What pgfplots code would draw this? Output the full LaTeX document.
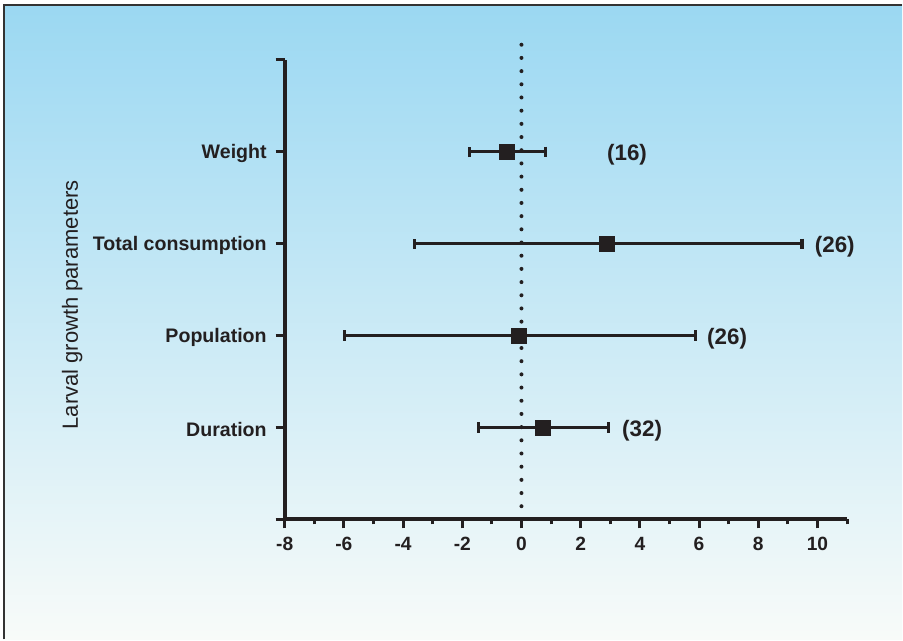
\documentclass[border=0pt]{standalone}
\usepackage{pgfplots}
\pgfplotsset{compat=1.18}
\usepackage{fontspec}
\setmainfont{Liberation Sans}
\definecolor{topc}{RGB}{155,216,242}
\definecolor{botc}{RGB}{248,251,249}
\definecolor{ink}{RGB}{35,31,32}
\begin{document}
\begin{tikzpicture}
\fill[white] (0,0) rectangle (451.5pt,320pt);
\shade[top color=topc, bottom color=botc] (2pt,0) rectangle (451.5pt,317.5pt);
\draw[line width=1pt, black!80] (2pt,0) -- (2pt,317.5pt) -- (451.5pt,317.5pt);
\begin{axis}[
  at={(142.5pt,60pt)}, anchor=south west,
  width=281.5pt, height=230pt, scale only axis,
  xmin=-8, xmax=11, ymin=0, ymax=5,
  axis x line=bottom, axis y line=left,
  axis line style={line width=2pt, -, ink},
  xtick={-8,-6,...,10},
  xticklabels={-8,-6,-4,-2,0,2,4,6,8,10},
  minor xtick={-7,-5,...,11},
  ytick={0,1,2,3,4,5},
  yticklabels={,Duration,Population,Total consumption,Weight,},
  tick align=outside,
  major tick length=4.5pt, minor tick length=2.5pt,
  every tick/.style={line width=1.5pt, ink},
  ticklabel style={font=\bfseries\fontsize{9.6}{11}\selectfont, text=ink},
  xticklabel style={yshift=-1pt},
  yticklabel style={xshift=-1pt, yshift=-1pt, font=\bfseries\fontsize{9.8}{11}\selectfont},
  ylabel={Larval growth parameters},
  ylabel style={at={(axis description cs:-0.378,0.467)}, anchor=center, font=\fontsize{11}{13}\selectfont, text=ink},
  clip=false,
]
\addplot[ink, line width=2pt, dash pattern=on 0pt off 6.6pt, line cap=round] coordinates {(0,0) (0,5.22)};
\addplot[ink, only marks, mark=square*, mark size=3.75pt,
  mark options={fill=ink, draw=ink},
  error bars/.cd, x dir=both, x explicit,
  error bar style={line width=1.6pt, ink},
  error mark=|,
  error mark options={line width=1.6pt, mark size=2.6pt, ink}]
  table[x=x, y=y, x error plus=ep, x error minus=em] {
y x em ep
4 -0.49 1.26 1.30
3 2.87 6.48 6.61
2 -0.10 5.88 5.98
1 0.72 2.16 2.21
};
\addplot[draw=none, mark=none, nodes near coords, point meta=explicit symbolic,
  every node near coord/.style={anchor=west, inner sep=0pt, yshift=-1.5pt, font=\bfseries\fontsize{11.2}{13}\selectfont, text=ink}]
  table[x=x, y=y, meta=label] {
x y label
2.88 4 (16)
9.90 3 (26)
6.26 2 (26)
3.39 1 (32)
};
\end{axis}
\end{tikzpicture}
\end{document}
